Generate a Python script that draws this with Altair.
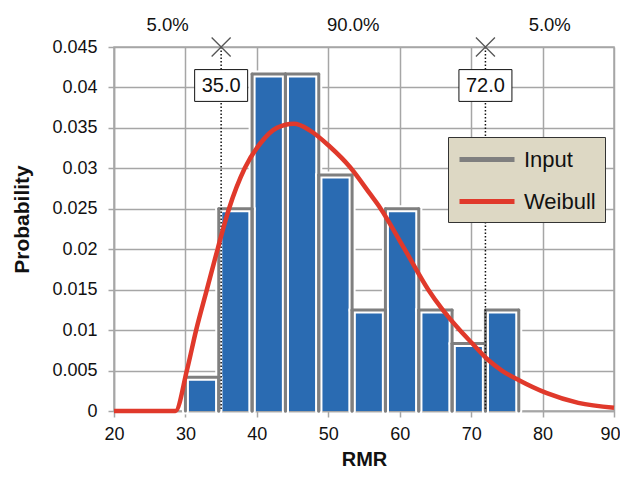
import altair as alt
import pandas as pd

# ---------------- data ----------------
bin_edges = [30.0, 34.667, 39.333, 44.0, 48.667, 53.333, 58.0, 62.667, 67.333, 72.0, 76.667]
bin_prob = [0.00417, 0.025, 0.04167, 0.04167, 0.02917, 0.0125, 0.025, 0.0125, 0.00833, 0.0125]

curve_x = [20.0, 28.6, 30.2, 31.5, 33.0, 34.5, 36.1, 38.3, 40.5, 42.8, 45.2, 47.4, 50.2,
           53.0, 55.8, 57.2, 60.5, 64.0, 68.4, 70.0, 72.4, 74.3, 76.7, 80.6, 85.0, 90.0]
curve_y = [0.0, 0.0, 0.005, 0.010, 0.015, 0.020, 0.025, 0.030, 0.0331, 0.0350, 0.0355, 0.0347, 0.0327,
           0.0302, 0.0269, 0.0252, 0.0203, 0.0150, 0.0100, 0.0085, 0.0063, 0.0050, 0.0038, 0.0022,
           0.0010, 0.0004]

marker_x = [35.0, 72.0]
pct_labels = ["5.0%", "90.0%", "5.0%"]
x_min, x_max = 20, 90
x_ticks = [20, 30, 40, 50, 60, 70, 80, 90]
y_ticks = [0, 0.005, 0.01, 0.015, 0.02, 0.025, 0.03, 0.035, 0.04, 0.045]
series_names = ["Input", "Weibull"]

# ---------------- tables ----------------
bars = pd.DataFrame({"x0": bin_edges[:-1], "x1": bin_edges[1:], "p": bin_prob})

segs = []
for a, b, p in zip(bin_edges[:-1], bin_edges[1:], bin_prob):
    segs.append({"x": a, "x2": b, "y": p, "y2": p, "series": "Input"})
    segs.append({"x": a, "x2": a, "y": 0.0, "y2": p, "series": "Input"})
    segs.append({"x": b, "x2": b, "y": 0.0, "y2": p, "series": "Input"})
segs = pd.DataFrame(segs)

curve = pd.DataFrame({"x": curve_x, "y": curve_y, "series": "Weibull"})
markers = pd.DataFrame({"x": marker_x, "label": [f"{v:.1f}" for v in marker_x]})
bounds = [x_min] + marker_x + [x_max]
pcts = pd.DataFrame({"x": [(bounds[i] + bounds[i + 1]) / 2 for i in range(3)], "label": pct_labels})

# ---------------- styling ----------------
W, H = 500, 364
GRID = "#a6a6a6"
FONT = "Liberation Sans"
BLUE = "#2a6bb2"
GRAY = "#7f7f7f"
RED = "#e0392b"

xs = alt.Scale(domain=[x_min, x_max], nice=False, zero=False)
ys = alt.Scale(domain=[0, 0.045], nice=False)

x_axis = alt.Axis(values=x_ticks, title="RMR", grid=True, gridColor=GRID, gridWidth=1.5,
                  domainColor=GRID, domainWidth=1.5, tickColor=GRID, tickWidth=1.5, tickSize=6,
                  labelFontSize=18, labelPadding=8, labelColor="#111", labelFlush=False,
                  labelOffset={"condition": {"test": f"datum.value == {x_max}", "value": -4}, "value": 0},
                  labelFont=FONT, titleFont=FONT, titleFontSize=20, titleFontWeight="bold",
                  titleColor="#111", titleY=54, titleBaseline="alphabetic")
y_axis = alt.Axis(values=y_ticks, title="Probability", format=".3~f", grid=True, gridColor=GRID,
                  gridWidth=1.5, domainColor=GRID, domainWidth=1.5, tickColor=GRID, tickWidth=1.5,
                  tickSize=6, labelFontSize=18, labelPadding=11, labelColor="#111",
                  labelFont=FONT, titleFont=FONT, titleFontSize=21, titleFontWeight="bold",
                  titleColor="#111", titleX=-86, titleY=172, titleAngle=-90,
                  titleAlign="center", titleBaseline="alphabetic")

color_scale = alt.Scale(domain=series_names, range=[GRAY, RED])
legend = alt.Legend(title=None, orient="none", legendX=334, legendY=90,
                    symbolType="M-1,0L4,0", symbolSize=484, symbolStrokeWidth=5,
                    labelOffset=40, labelFontSize=22, labelFont=FONT, labelColor="#111",
                    fillColor="#ddd8c4", strokeColor="#333", padding=9, rowPadding=17)

# ---------------- layers ----------------
bar_layer = alt.Chart(bars).mark_rect(fill=BLUE).encode(
    x=alt.X("x0:Q", scale=xs, axis=x_axis), x2="x1:Q",
    y=alt.Y("p:Q", scale=ys, axis=y_axis), y2=alt.value(H))

casing = alt.Chart(segs).mark_rule(color="white", strokeWidth=7, strokeCap="round").encode(
    x=alt.X("x:Q", scale=xs), x2="x2:Q", y=alt.Y("y:Q", scale=ys), y2="y2:Q")

outline = alt.Chart(segs).mark_rule(strokeWidth=3, strokeCap="round").encode(
    x=alt.X("x:Q", scale=xs), x2="x2:Q", y=alt.Y("y:Q", scale=ys), y2="y2:Q",
    stroke=alt.Stroke("series:N", scale=color_scale, legend=legend))

dotted = alt.Chart(markers).mark_rule(color="#111", strokeWidth=1.5, strokeDash=[1.5, 2]).encode(
    x=alt.X("x:Q", scale=xs), y=alt.value(0), y2=alt.value(H))

line = alt.Chart(curve).mark_line(strokeWidth=4.5, interpolate="monotone").encode(
    x=alt.X("x:Q", scale=xs), y=alt.Y("y:Q", scale=ys),
    stroke=alt.Stroke("series:N", scale=color_scale, legend=legend))

crosses = alt.Chart(markers).mark_point(shape="M-1,-1L1,1M1,-1L-1,1", size=361, filled=False,
                                        stroke="#555", strokeWidth=1.3, opacity=1).encode(
    x=alt.X("x:Q", scale=xs), y=alt.value(0))

boxes = alt.Chart(markers).mark_point(shape="M-1,-0.6L1,-0.6L1,0.6L-1,0.6Z", size=2809, filled=True,
                                      fill="white", stroke="#111", strokeWidth=1, opacity=1).encode(
    x=alt.X("x:Q", scale=xs), y=alt.value(38.5))

box_text = alt.Chart(markers).mark_text(font=FONT, fontSize=20, color="#111", baseline="middle").encode(
    x=alt.X("x:Q", scale=xs), y=alt.value(38.5), text="label:N")

pct_text = alt.Chart(pcts).mark_text(font=FONT, fontSize=18.5, color="#111", baseline="middle").encode(
    x=alt.X("x:Q", scale=xs), y=alt.value(-22), text="label:N")

chart = alt.layer(bar_layer, casing, outline, dotted, line, crosses, boxes, box_text, pct_text).properties(
    width=W, height=H,
    autosize=alt.AutoSizeParams(type="none"),
    padding={"left": 106, "top": 39, "right": 6, "bottom": 60},
    background="white",
).configure_view(stroke=GRID, strokeWidth=1.5)

chart.save("out.html", embed_options={"renderer": "svg", "actions": False})
